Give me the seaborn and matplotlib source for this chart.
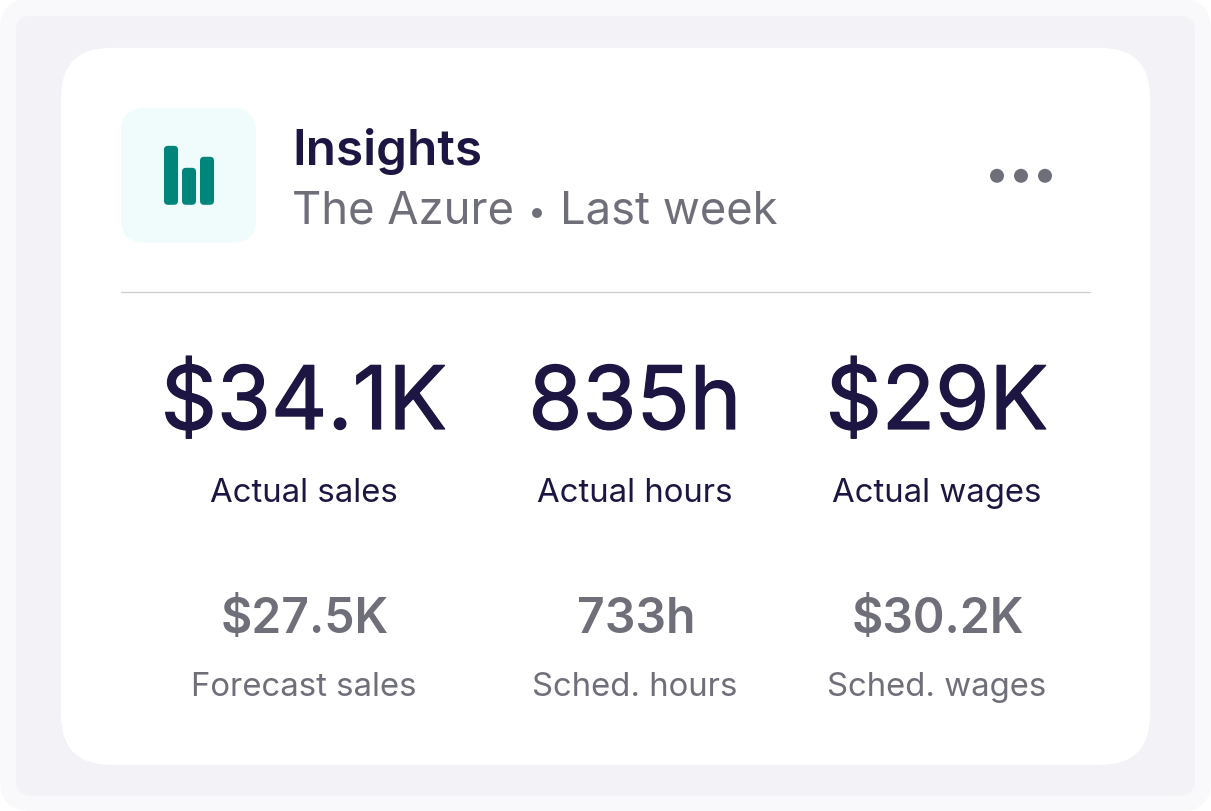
import matplotlib
matplotlib.use('Agg')
import matplotlib.pyplot as plt
import matplotlib.patheffects as pe
import seaborn as sns
from matplotlib.patches import FancyBboxPatch, Circle
from matplotlib.transforms import IdentityTransform

# --- data ---
titulo = 'Insights'
subtitulo = ['The Azure', '•', 'Last week']
actual_valores = ['$34.1K', '835h', '$29K']
actual_nomes = ['Actual sales', 'Actual hours', 'Actual wages']
previsto_valores = ['$27.5K', '733h', '$30.2K']
previsto_nomes = ['Forecast sales', 'Sched. hours', 'Sched. wages']
icone_barras = ['a', 'b', 'c']
icone_alturas = [59, 37, 48]

ESCURO = '#1e1642'
CINZA = '#6f6f7a'
TEAL = '#00857b'

sns.set_theme(style='white')
plt.rcParams['font.family'] = ['Inter', 'DejaVu Sans']

fig = plt.figure(figsize=(12.11, 8.12), dpi=100, facecolor='white')
ax = fig.add_axes([0, 0, 1, 1])
ax.set_xlim(0, 1211)
ax.set_ylim(812, 0)
ax.axis('off')

DY = 0.8  # as formas saiam 1px acima do original


def caixa(x0, y0, x1, y1, raio, cor):
    ax.add_patch(FancyBboxPatch((x0 + raio, y0 + raio), x1 - x0 - 2 * raio, y1 - y0 - 2 * raio,
                                boxstyle=f'round,pad={raio},rounding_size={raio}',
                                fc=cor, ec='none'))


# fundo e cartao
caixa(0, 0, 1211, 812, 30, '#f9f9fb')
caixa(16, 16 + DY, 1195, 796 + DY, 16, '#f2f2f7')
caixa(61, 48 + DY, 1150, 765 + DY, 50, 'white')
caixa(121, 108 + DY, 256, 243 + DY, 24, '#f0fcfc')

# icone: barplot pequeno em cima do quadrado
ax_ic = fig.add_axes([164 / 1211, 1 - (205 + DY) / 812, 50 / 1211, 59 / 812])
sns.barplot(x=icone_barras, y=icone_alturas, color=TEAL, saturation=1, width=14 / 18, ax=ax_ic)
ax_ic.set_xlim(-7 / 18, 2 + 7 / 18)
ax_ic.set_ylim(0, 59)
ax_ic.axis('off')
# troca os retangulos por cantos arredondados
for barra in list(ax_ic.patches):
    ext = barra.get_window_extent()
    barra.set_visible(False)
    r = 4
    fig.add_artist(FancyBboxPatch((ext.x0 + r, ext.y0 + r), ext.width - 2 * r, ext.height - 2 * r,
                                  boxstyle=f'round,pad={r},rounding_size={r}',
                                  fc=TEAL, ec='none', transform=IdentityTransform()))

# cabecalho
ax.text(292, 165, titulo, fontsize=35.6, fontweight='semibold', color=ESCURO, va='baseline', ha='left')
ax.text(291.5, 223, subtitulo[0], fontsize=32.7, color=CINZA, va='baseline', ha='left')
ax.text(537, 222, subtitulo[1], fontsize=23, color=CINZA, va='baseline', ha='center')
ax.text(560, 223, subtitulo[2], fontsize=32.7, color=CINZA, va='baseline', ha='left')
for x in [997, 1021, 1045]:
    ax.add_patch(Circle((x, 176 + DY), 7, fc=CINZA, ec='none'))
ax.plot([121, 1090], [292.5, 292.5], color='#cfcfcf', lw=0.9)

# numeros
colunas = [304, 635, 937]
engrossa = [pe.withStroke(linewidth=0.9, foreground=ESCURO)]  # entre regular e medium
for i, x in enumerate(colunas):
    ax.text(x, 430, actual_valores[i], fontsize=63, color=ESCURO, ha='center', va='baseline',
            path_effects=engrossa)
    ax.text(x, 502, actual_nomes[i], fontsize=23.7, color=ESCURO, ha='center', va='baseline')
    ax.text(x + 1, 633, previsto_valores[i], fontsize=34.6, fontweight='semibold', color=CINZA, ha='center', va='baseline')
    ax.text(x - 0.5, 696, previsto_nomes[i], fontsize=23.7, color=CINZA, ha='center', va='baseline')

fig.savefig('out.png', dpi=100)
